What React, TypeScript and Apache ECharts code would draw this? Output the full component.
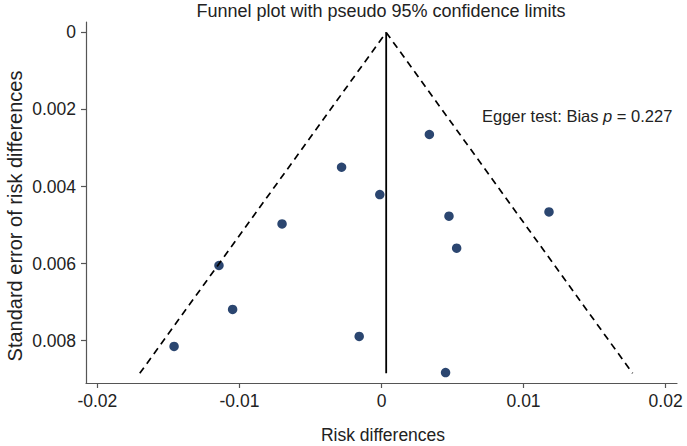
import React, { useEffect, useRef } from "react";
import * as echarts from "echarts";

// Study-level data: risk difference and its standard error
const riskDifferences = [0.00337, -0.00281, -0.00012, 0.00475, 0.01179, 0.00529, -0.0070, -0.01144, -0.01048, -0.0146, -0.00157, 0.00451];
const standardErrors = [0.00265, 0.00350, 0.00421, 0.00477, 0.00466, 0.00560, 0.00497, 0.00605, 0.00719, 0.00815, 0.00789, 0.00883];

// Pooled estimate and largest SE used for the pseudo 95% limits
const pooledEstimate = 0.00033;
const maxSE = 0.00885;
const z95 = 1.96;

const xTicks = [-0.02, -0.01, 0, 0.01, 0.02];
const yTicks = [0, 0.002, 0.004, 0.006, 0.008];

const titleText = "Funnel plot with pseudo 95% confidence limits";
const xTitle = "Risk differences";
const yTitle = "Standard error of risk differences";
const eggerP = "0.227";

const FONT = "'Liberation Sans', Arial, Helvetica, sans-serif";

export default function App() {
  const ref = useRef<HTMLDivElement>(null);
  useEffect(() => {
    if (!ref.current) return;
    const chart = echarts.init(ref.current, null, { renderer: "svg" });
    const points = riskDifferences.map((x, i) => [x, standardErrors[i]]);
    const leftLimit = [
      [pooledEstimate - z95 * maxSE, maxSE],
      [pooledEstimate, 0],
    ];
    const rightLimit = [
      [pooledEstimate, 0],
      [pooledEstimate + z95 * maxSE, maxSE],
    ];
    const pooledLine = [
      [pooledEstimate, 0],
      [pooledEstimate, maxSE],
    ];
    const fmt = (v: number) => (v === 0 ? "0" : String(Number(v.toFixed(4))));
    const axisColor = "#555";
    chart.setOption({
      animation: false,
      backgroundColor: "#ffffff",
      grid: { left: 86, right: 10, top: 22, bottom: 63, containLabel: false },
      xAxis: {
        type: "value",
        min: -0.0208,
        max: 0.0208,
        splitLine: { show: false },
        axisLine: { onZero: false, lineStyle: { color: axisColor, width: 1.2 } },
        axisTick: { customValues: xTicks, length: 5, lineStyle: { color: axisColor, width: 1.2 } },
        axisLabel: {
          customValues: xTicks,
          formatter: fmt,
          fontFamily: FONT,
          fontSize: 17.5,
          color: "#222",
          margin: 9,
        },
      },
      yAxis: {
        type: "value",
        inverse: true,
        min: -0.00027,
        max: 0.0091,
        splitLine: { show: false },
        axisLine: { show: true, onZero: false, lineStyle: { color: axisColor, width: 1.2 } },
        axisTick: { show: true, customValues: yTicks, length: 5, lineStyle: { color: axisColor, width: 1.2 } },
        axisLabel: {
          customValues: yTicks,
          formatter: fmt,
          fontFamily: FONT,
          fontSize: 17.5,
          color: "#222",
          margin: 10,
        },
      },
      series: [
        {
          type: "line",
          data: leftLimit,
          symbol: "none",
          lineStyle: { color: "#000", width: 1.7, type: [7, 5] },
          silent: true,
        },
        {
          type: "line",
          data: rightLimit,
          symbol: "none",
          lineStyle: { color: "#000", width: 1.7, type: [7, 5] },
          silent: true,
        },
        {
          type: "line",
          data: pooledLine,
          symbol: "none",
          lineStyle: { color: "#000", width: 1.8 },
          silent: true,
        },
        {
          type: "scatter",
          data: points,
          symbol: "circle",
          symbolSize: 9.5,
          itemStyle: { color: "#2b4670", opacity: 1 },
        },
      ],
      graphic: [
        {
          type: "text",
          x: 381,
          y: 11,
          style: {
            text: titleText,
            fontFamily: FONT,
            fontSize: 18,
            fill: "#222",
            textAlign: "center",
            textVerticalAlign: "middle",
          },
        },
        {
          type: "text",
          x: 383,
          y: 435,
          style: {
            text: xTitle,
            fontFamily: FONT,
            fontSize: 17.5,
            fill: "#222",
            textAlign: "center",
            textVerticalAlign: "middle",
          },
        },
        {
          type: "text",
          x: 15,
          y: 216,
          rotation: Math.PI / 2,
          style: {
            text: yTitle,
            fontFamily: FONT,
            fontSize: 20,
            fill: "#222",
            textAlign: "center",
            textVerticalAlign: "middle",
          },
        },
        {
          type: "text",
          x: 482,
          y: 116,
          style: {
            text: "Egger test: Bias {i|p} = " + eggerP,
            fontFamily: FONT,
            fontSize: 16.5,
            fill: "#222",
            textAlign: "left",
            textVerticalAlign: "middle",
            rich: {
              i: { fontStyle: "italic", fontFamily: FONT, fontSize: 16.5, fill: "#222" },
            },
          },
        },
      ],
    });
    return () => chart.dispose();
  }, []);
  return <div ref={ref} style={{ width: 687, height: 446, position: "absolute", left: 0, top: 0 }} />;
}
